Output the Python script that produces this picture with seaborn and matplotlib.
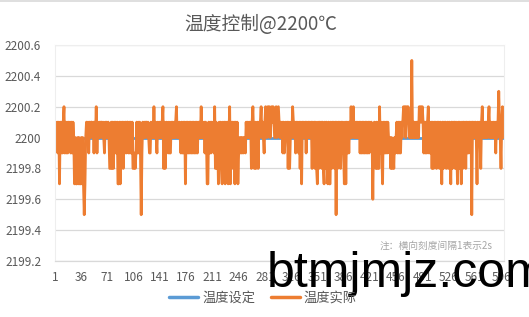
import numpy as np
import pandas as pd
import seaborn as sns
import matplotlib
matplotlib.use("Agg")
import matplotlib.pyplot as plt
from matplotlib.lines import Line2D

title = "温度控制@2200℃"
series_names = ["温度设定", "温度实际"]
setpoint = 2200.0
note = "注：横向刻度间隔1表示2s"
watermark = "btmjmjz.com"
y_ticks = [2199.2, 2199.4, 2199.6, 2199.8, 2200.0, 2200.2, 2200.4, 2200.6]
y_tick_labels = ["2199.2", "2199.4", "2199.6", "2199.8", "2200", "2200.2", "2200.4", "2200.6"]
x_tick_values = [1, 36, 71, 106, 141, 176, 211, 246, 281, 316, 351, 386, 421, 456, 491, 526, 561, 596]

actual_dev = [
    -1, 1, 0, 1, -1, 1, -3, 1, -1, 1, -1, 1, 2, -1, 1, -1, 1, -1, 1, 0,
    1, -1, 1, -1, 1, 0, -3, 0, -3, -3, 0, -3, 0, -3, -3, 0, -3, 0, -3, -5,
    -3, 0, 1, 0, 1, -1, 1, 0, 1, 1, 0, 1, -1, 1, 0, 2, -1, 1, 0, 1,
    0, 1, 1, 0, 1, 0, -1, 1, 0, 1, 0, 1, 0, -2, -2, 1, -2, 1, -2, 1,
    -1, 1, -1, 1, -3, -3, 1, -3, 1, -1, 1, -2, 1, -1, 1, -1, 1, 1, -1, 1,
    -1, 1, -1, 1, -2, -2, -1, -2, -1, 1, -1, 1, -1, 1, -1, -5, -1, 1, 0, 1,
    0, 1, 1, 0, 1, 0, -1, -1, 1, 0, 1, 0, 2, 0, 1, 0, -1, 1, 0, 1,
    0, 1, 0, 1, 2, -2, 1, -2, 0, 1, 0, -1, 1, -1, -1, 1, 0, 1, 0, 1,
    0, 1, 2, 0, 1, 0, 1, 0, -1, 1, -1, 1, -1, 1, -3, 1, -1, 1, -1, 1,
    -1, 1, -1, 1, -1, 1, -1, 1, -1, 1, -1, 1, 0, 1, 0, 2, 0, 1, 0, 1,
    -1, 1, 0, -3, -3, 1, -1, 1, -1, 1, 0, 1, -1, 2, -2, 1, -2, 0, -3, 1,
    -2, 1, -2, -3, 1, -1, 1, -3, 1, -2, 1, -3, 0, 2, -3, 1, -2, 1, -1, 1,
    -3, 1, -1, 1, -3, -1, 0, -1, 0, -1, 0, -1, 0, 0, -1, 1, 0, 1, 0, 1,
    0, 1, -2, 1, 2, 0, -2, 1, -2, 0, 1, -2, 1, 0, 1, 2, 0, 1, 0, -1,
    1, 2, 1, 0, 2, 1, 2, 0, 1, 2, 1, 2, 1, 0, 1, 2, 0, 1, 2, 1,
    0, 1, 0, 1, -1, 1, -1, 0, 1, 0, 1, -2, 1, -2, 0, 1, 0, 2, 1, 0,
    1, -1, 1, 0, 1, -1, 1, -2, 1, -3, 1, 0, 1, 0, 1, -1, 1, 0, 1, 0,
    1, 0, 1, -2, 1, 0, 1, -2, 1, -2, -3, 1, -2, 1, -1, 1, -2, 1, -2, -3,
    1, -2, 1, -1, -3, 1, -3, -3, 1, -2, 1, -1, 1, -2, 1, -5, 1, -2, 1, -1,
    1, -2, 1, -1, 1, -1, -3, 1, -3, 1, -1, 1, -1, 1, 0, 2, 0, 1, 2, 0,
    1, 0, 1, 0, 1, 0, 1, -1, 1, -1, 1, -1, 1, -1, 1, -1, 1, -1, 1, -1,
    1, 0, 1, 0, -4, 0, 1, 0, -2, 1, -2, 1, -2, 2, -1, 1, -1, -3, 1, -1,
    1, -1, 1, -1, 1, 0, -1, 0, -2, 0, -2, -1, -2, 0, -1, 0, 1, -1, 1, -1,
    1, -1, 1, 0, 1, 2, 1, 2, 0, 2, 1, 2, 1, 0, 1, 0, 5, 0, 1, 0,
    1, 0, 1, 0, 1, 0, 2, 1, 2, 1, 2, 1, -1, 1, -1, 1, -1, 1, 2, -1,
    1, -1, 1, -2, 1, -2, 1, -1, 1, -2, 1, -1, 1, -2, 1, -1, -3, 1, -2, 1,
    -1, 1, -2, 0, 1, -2, 1, -1, -3, 1, -2, 1, -1, 1, -2, 1, -1, -3, 1, -2,
    1, -1, -3, 1, -2, 1, -1, 1, -2, 1, -1, 1, -1, 1, 0, 1, -5, 1, 0, 1,
    0, 1, 0, -3, 1, 0, 1, 0, -2, 1, 2, 0, 1, 0, 1, 0, 1, 0, 1, 2,
    0, 1, 0, 1, 0, 1, 0, 1, -1, 1, 0, 1, 3, 1, 0, -2, 1, 2, 0, 1,
]

n = len(actual_dev)
idx = np.arange(1, n + 1)
actual = setpoint + np.array(actual_dev) * 0.1
df = pd.DataFrame({
    "idx": np.concatenate([idx, idx]),
    "value": np.concatenate([np.full(n, setpoint), actual]),
    "series": [series_names[0]] * n + [series_names[1]] * n,
})

sns.set_theme(style="white")
plt.rcParams["font.family"] = ["Noto Sans CJK SC", "DejaVu Sans"]

blue = "#5B9BD5"
orange = "#ED7D31"
txt = "#595959"

fig = plt.figure(figsize=(5.29, 3.17), dpi=100)
ax = fig.add_axes([55 / 529, 1 - 261 / 317, 449 / 529, 216 / 317])

sns.lineplot(data=df, x="idx", y="value", hue="series",
             palette={series_names[0]: blue, series_names[1]: orange},
             linewidth=2.0, legend=False, ax=ax, estimator=None)
for ln in ax.get_lines():
    ln.set_solid_joinstyle("round")

ax.set_xlim(1, n)
ax.set_ylim(2199.2, 2200.6)
ax.set_yticks(y_ticks)
ax.set_yticklabels(y_tick_labels)
ax.set_xticks(x_tick_values)
ax.set_xticklabels([str(v) for v in x_tick_values])
ax.tick_params(axis="both", length=0, labelsize=8.5, labelcolor=txt)
ax.tick_params(axis="y", pad=10)
ax.tick_params(axis="x", pad=7)
ax.set_xlabel("")
ax.set_ylabel("")
ax.grid(axis="y", color="#D9D9D9", linewidth=0.9)
ax.set_axisbelow(True)
for s in ["top", "right", "left"]:
    ax.spines[s].set_color("#EEEEEE")
    ax.spines[s].set_linewidth(0.8)
ax.spines["bottom"].set_color("#D9D9D9")
ax.spines["bottom"].set_linewidth(0.9)

fig.text(261 / 529, 1 - 25 / 317, title, ha="center", va="center",
         fontsize=13.5, color=txt)

ax.text(0.975, 0.07, note, transform=ax.transAxes, ha="right", va="center",
        fontsize=7, color="#A6A6A6")

handles = [Line2D([], [], color=blue, linewidth=2.5),
           Line2D([], [], color=orange, linewidth=2.5)]
fig.legend(handles, series_names, loc="center", bbox_to_anchor=(263 / 529, 1 - 298 / 317),
           ncol=2, frameon=False, fontsize=9.5, labelcolor=txt,
           handlelength=2.2, handletextpad=0.3, columnspacing=1.2)

fig.text(267 / 529, 1 - 287 / 317, watermark, ha="left", va="baseline",
         fontsize=36, color="black", family=["Liberation Sans", "DejaVu Sans"])

fig.add_artist(Line2D([0, 1], [0.998, 0.998], transform=fig.transFigure,
                      color="#D9D9D9", linewidth=1.2))

fig.savefig("out.png", dpi=100)
